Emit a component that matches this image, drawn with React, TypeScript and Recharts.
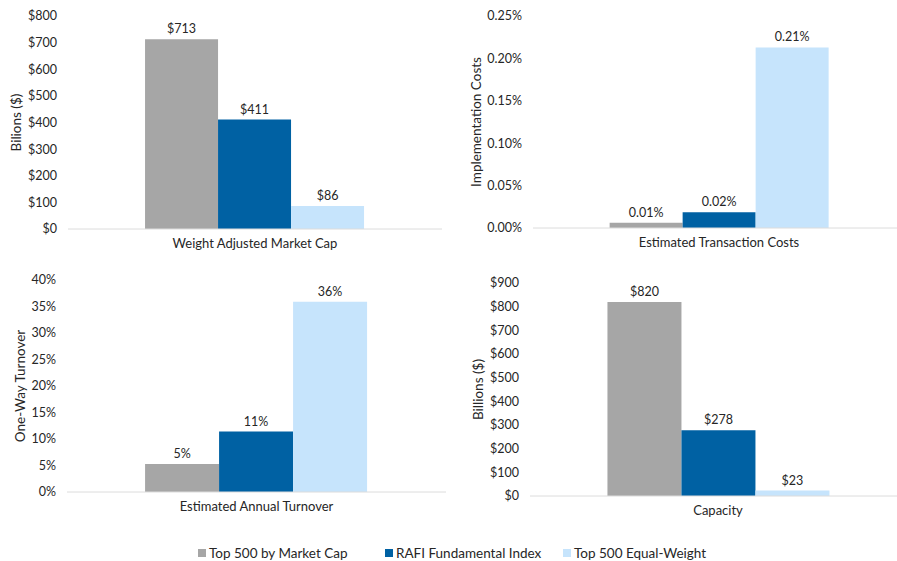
import React from 'react';
import { BarChart, Bar, XAxis, YAxis, LabelList, Label } from 'recharts';

const seriesNames = ['Top 500 by Market Cap', 'RAFI Fundamental Index', 'Top 500 Equal-Weight'];
const seriesKeys = ['cap', 'rafi', 'eq'];
const seriesColors = ['#A6A6A6', '#0061A3', '#C6E4FC'];

const marketCapCategory = 'Weight Adjusted Market Cap';
const marketCapValues = [713, 411, 86];
const marketCapTicks = [0, 100, 200, 300, 400, 500, 600, 700, 800];

const transactionCategory = 'Estimated Transaction Costs';
const transactionValues = [0.0063, 0.0185, 0.213];
const transactionTicks = [0, 0.05, 0.1, 0.15, 0.2, 0.25];

const turnoverCategory = 'Estimated Annual Turnover';
const turnoverValues = [5.3, 11.4, 35.9];
const turnoverTicks = [0, 5, 10, 15, 20, 25, 30, 35, 40];

const capacityCategory = 'Capacity';
const capacityValues = [820, 278, 23];
const capacityTicks = [0, 100, 200, 300, 400, 500, 600, 700, 800, 900];

const FONT = 'Lato, "Open Sans", sans-serif';
const TEXT = '#262626';

const dollar = (v: number) => `$${Math.round(v)}`;
const pct2 = (v: number) => `${v.toFixed(2)}%`;
const pct0 = (v: number) => `${Math.round(v)}%`;

function buildRow(category: string, values: number[]) {
  const row: Record<string, string | number> = { name: category };
  seriesKeys.forEach((k, i) => {
    row[k] = values[i];
  });
  return [row];
}

type PanelProps = {
  left: number;
  top: number;
  width: number;
  height: number;
  marginTop: number;
  yWidth: number;
  xHeight: number;
  category: string;
  values: number[];
  ticks: number[];
  fmt: (v: number) => string;
  labelFmt: (v: number) => string;
  yTitle: string;
  yTitleX: number;
  gap: string;
};

function Panel(p: PanelProps) {
  const data = buildRow(p.category, p.values);
  const max = p.ticks[p.ticks.length - 1];
  return (
    <div style={{ position: 'absolute', left: p.left, top: p.top }}>
      <BarChart
        width={p.width}
        height={p.height}
        data={data}
        margin={{ top: p.marginTop, right: 0, bottom: 0, left: 0 }}
        barCategoryGap={p.gap}
        barGap={0}
      >
        <XAxis
          dataKey="name"
          height={p.xHeight}
          axisLine={{ stroke: '#DCDCDC', strokeWidth: 1 }}
          tickLine={false}
          tickMargin={4}
          tick={{ fill: TEXT, fontSize: 13, fontFamily: FONT }}
        />
        <YAxis
          width={p.yWidth}
          domain={[0, max]}
          ticks={p.ticks}
          interval={0}
          axisLine={false}
          tickLine={false}
          tickMargin={5}
          tickFormatter={p.fmt}
          tick={{ fill: TEXT, fontSize: 12.5, fontFamily: FONT }}
        >
          <Label
            content={(props: any) => {
              const vb = props.viewBox || {};
              const cy = (vb.y || 0) + (vb.height || 0) / 2;
              const cx = p.yTitleX;
              return (
                <text
                  x={cx}
                  y={cy}
                  transform={`rotate(-90 ${cx} ${cy})`}
                  textAnchor="middle"
                  dominantBaseline="central"
                  fill={TEXT}
                  fontSize={13.5}
                  fontFamily={FONT}
                >
                  {p.yTitle}
                </text>
              );
            }}
          />
        </YAxis>
        {seriesKeys.map((k, i) => (
          <Bar key={k} dataKey={k} name={seriesNames[i]} fill={seriesColors[i]} isAnimationActive={false}>
            <LabelList
              dataKey={k}
              position="top"
              offset={6}
              formatter={(v: any) => p.labelFmt(Number(v))}
              style={{ fill: TEXT, fontSize: 12.5, fontFamily: FONT }}
            />
          </Bar>
        ))}
      </BarChart>
    </div>
  );
}

const legendX = [198, 385, 563];

export default function App() {
  return (
    <div
      style={{
        position: 'absolute',
        left: 0,
        top: 0,
        width: 897,
        height: 561,
        overflow: 'hidden',
        background: '#fff',
        fontFamily: FONT,
      }}
    >
      <Panel
        left={0}
        top={0}
        width={442}
        height={260}
        marginTop={16}
        yWidth={68}
        xHeight={31}
        category={marketCapCategory}
        values={marketCapValues}
        ticks={marketCapTicks}
        fmt={dollar}
        labelFmt={dollar}
        yTitle="Bilions ($)"
        yTitleX={16}
        gap="20.6%"
      />
      <Panel
        left={460}
        top={0}
        width={445}
        height={260}
        marginTop={16}
        yWidth={73}
        xHeight={32}
        category={transactionCategory}
        values={transactionValues}
        ticks={transactionTicks}
        fmt={pct2}
        labelFmt={pct2}
        yTitle="Implementation Costs"
        yTitleX={16}
        gap="20.6%"
      />
      <Panel
        left={0}
        top={260}
        width={446}
        height={270}
        marginTop={20}
        yWidth={67}
        xHeight={38}
        category={turnoverCategory}
        values={turnoverValues}
        ticks={turnoverTicks}
        fmt={pct0}
        labelFmt={pct0}
        yTitle="One-Way Turnover"
        yTitleX={20}
        gap="20.6%"
      />
      <Panel
        left={460}
        top={260}
        width={446}
        height={270}
        marginTop={23}
        yWidth={70}
        xHeight={34}
        category={capacityCategory}
        values={capacityValues}
        ticks={capacityTicks}
        fmt={dollar}
        labelFmt={dollar}
        yTitle="Billions ($)"
        yTitleX={18}
        gap="20.6%"
      />
      {seriesNames.map((n, i) => (
        <div
          key={n}
          style={{
            position: 'absolute',
            left: legendX[i],
            top: 545,
            height: 16,
            display: 'flex',
            alignItems: 'center',
            fontSize: 13.5,
            color: TEXT,
            whiteSpace: 'nowrap',
          }}
        >
          <span
            style={{
              display: 'inline-block',
              width: 8,
              height: 8,
              background: seriesColors[i],
              marginRight: 3,
            }}
          />
          {n}
        </div>
      ))}
    </div>
  );
}
